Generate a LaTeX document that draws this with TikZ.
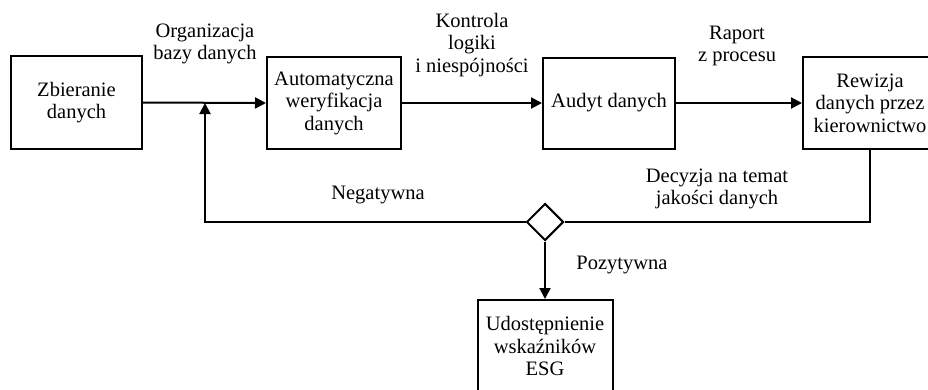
\documentclass[tikz,border=0pt]{standalone}
\usepackage{fontspec}
\setmainfont{Liberation Serif}
\usetikzlibrary{arrows.meta,shapes.geometric}

\begin{document}
\begin{tikzpicture}[x=1pt,y=-1pt,
  every node/.style={font=\fontsize{20.5}{22.5}\selectfont, align=center, inner sep=0pt},
  stepbox/.style={draw, line width=2pt, fill=white},
  decision/.style={draw, diamond, line width=2pt, minimum width=37pt, minimum height=37pt, aspect=1},
  link/.style={line width=2pt},
  arr/.style={link, -{Triangle[length=11pt,width=11pt]}},
  caption/.style={}
]
\useasboundingbox (0,0) rectangle (928,389);
\clip (0,0) rectangle (928,389);

% process boxes
\node[stepbox, minimum width=131pt, minimum height=93pt] (b1) at (76.5,102.5) {Zbieranie\\danych};
\node[stepbox, minimum width=134pt, minimum height=92pt] (b2) at (334,103) {Automatyczna\\weryfikacja\\danych};
\node[stepbox, minimum width=132pt, minimum height=91pt] (b3) at (609,103) {Audyt danych};
\node[stepbox, minimum width=134pt, minimum height=92pt] (b4) at (870,103) {Rewizja\\danych przez\\kierownictwo};
\node[stepbox, minimum width=135pt, minimum height=92pt] (b5) at (545,346) {Udostępnienie\\wskaźników\\ESG};

% decision
\node[decision] (d) at (545,222) {};

% feedback junction on the main flow
\coordinate (join) at (205,103);

% connectors
\draw[arr] (b1.east) -- (b2.west);
\draw[arr] (b2.east) -- (b3.west);
\draw[arr] (b3.east) -- (b4.west);
\draw[link] (b4.south) |- (d.east);
\draw[arr] (d.west) -| (join);
\draw[arr] (d.south) -- (b5.north);

% labels
\node[caption] (l1) at (205,44) {Organizacja\\bazy danych};
\node[caption] (l2) at (472,45) {Kontrola\\logiki\\i niespójności};
\node[caption] (l3) at (737,46) {Raport\\z procesu};
\node[caption] (l4) at (717,189) {Decyzja na temat\\jakości danych};
\node[caption] (l5) at (378,195) {Negatywna};
\node[caption] (l6) at (622,265) {Pozytywna};
\end{tikzpicture}
\end{document}
